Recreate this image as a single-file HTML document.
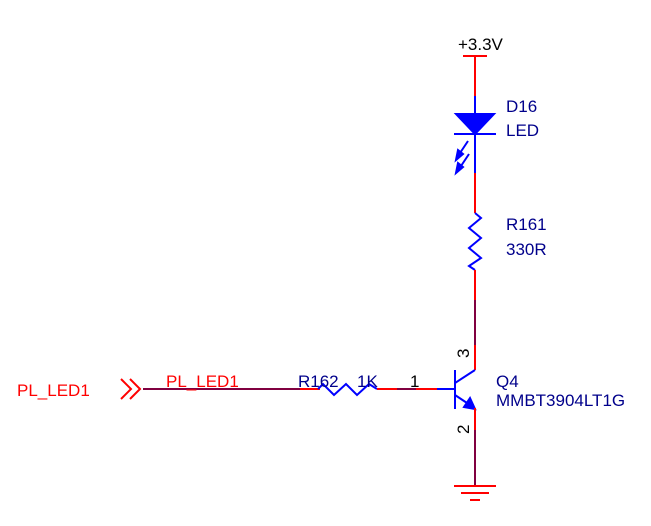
<!DOCTYPE html>
<html><head><meta charset="utf-8"><style>
body{margin:0;background:#fff;width:651px;height:521px;overflow:hidden}
text{font-family:"Liberation Sans",sans-serif;font-size:17px}
</style></head><body>
<svg width="651" height="521" viewBox="0 0 651 521">
<g fill="none" stroke-width="2">
<line x1="463" y1="56" x2="487" y2="56" stroke="#f00"/>
<line x1="475" y1="56" x2="475" y2="96" stroke="#f00"/>
<g stroke="#00f">
<line x1="475" y1="96" x2="475" y2="173"/>
<polygon points="456,114 494,114 475,134" fill="#00f"/>
<line x1="454" y1="134" x2="496" y2="134"/>
<line x1="468" y1="141" x2="458" y2="156"/>
<polygon points="456,160 458,150 463,154" fill="#00f"/>
<line x1="469" y1="154" x2="459" y2="169"/>
<polygon points="456,173 458,163 463,167" fill="#00f"/>
</g>
<line x1="475" y1="173" x2="475" y2="213" stroke="#f00"/>
<polyline stroke="#00f" points="475,213 481,218 469,228 481,238 469,248 481,258 469,266 475,270"/>
<line x1="475" y1="270" x2="475" y2="300" stroke="#f00"/>
<line x1="475" y1="300" x2="475" y2="345" stroke="#800040"/>
<line x1="475" y1="345" x2="475" y2="370" stroke="#f00"/>
<g stroke="#00f">
<line x1="455" y1="370" x2="455" y2="409"/>
<line x1="437" y1="389" x2="455" y2="389"/>
<line x1="455" y1="383" x2="475" y2="370"/>
<line x1="455" y1="395" x2="470" y2="405"/>
<polygon points="475,409 464,407 470,398" fill="#00f"/>
</g>
<line x1="475" y1="408" x2="475" y2="430" stroke="#f00"/>
<line x1="475" y1="430" x2="475" y2="486" stroke="#800040"/>
<g stroke="#f00">
<line x1="454" y1="486" x2="496" y2="486"/>
<line x1="461" y1="493" x2="489" y2="493"/>
<line x1="470" y1="500" x2="480" y2="500"/>
</g>
<line x1="143" y1="389" x2="300" y2="389" stroke="#800040"/>
<line x1="300" y1="389" x2="320" y2="389" stroke="#f00"/>
<polyline stroke="#00f" points="318,389 323,384 334,395 346,384 357,395 369,384 377,389"/>
<line x1="377" y1="389" x2="397" y2="389" stroke="#f00"/>
<line x1="397" y1="389" x2="416" y2="389" stroke="#800040"/>
<line x1="416" y1="389" x2="437" y2="389" stroke="#f00"/>
<g stroke="#f00">
<polyline points="121,379 131,389 121,399"/>
<polyline points="130,379 140,389 130,399"/>
</g>
</g>
<text x="458" y="50" fill="#000">+3.3V</text>
<text x="506" y="112" fill="#00008b">D16</text>
<text x="506" y="136" fill="#00008b">LED</text>
<text x="506" y="230" fill="#00008b">R161</text>
<text x="506" y="255" fill="#00008b">330R</text>
<text x="298" y="387" fill="#00008b">R162</text>
<text x="357" y="387" fill="#00008b">1K</text>
<text x="410" y="387" fill="#000">1</text>
<text transform="translate(469,358) rotate(-90)" fill="#000">3</text>
<text transform="translate(469,434) rotate(-90)" fill="#000">2</text>
<text x="496" y="387" fill="#00008b">Q4</text>
<text x="496" y="406" fill="#00008b">MMBT3904LT1G</text>
<text x="17" y="396" fill="#f00">PL_LED1</text>
<text x="166" y="387" fill="#f00">PL_LED1</text>
</svg>
</body></html>
